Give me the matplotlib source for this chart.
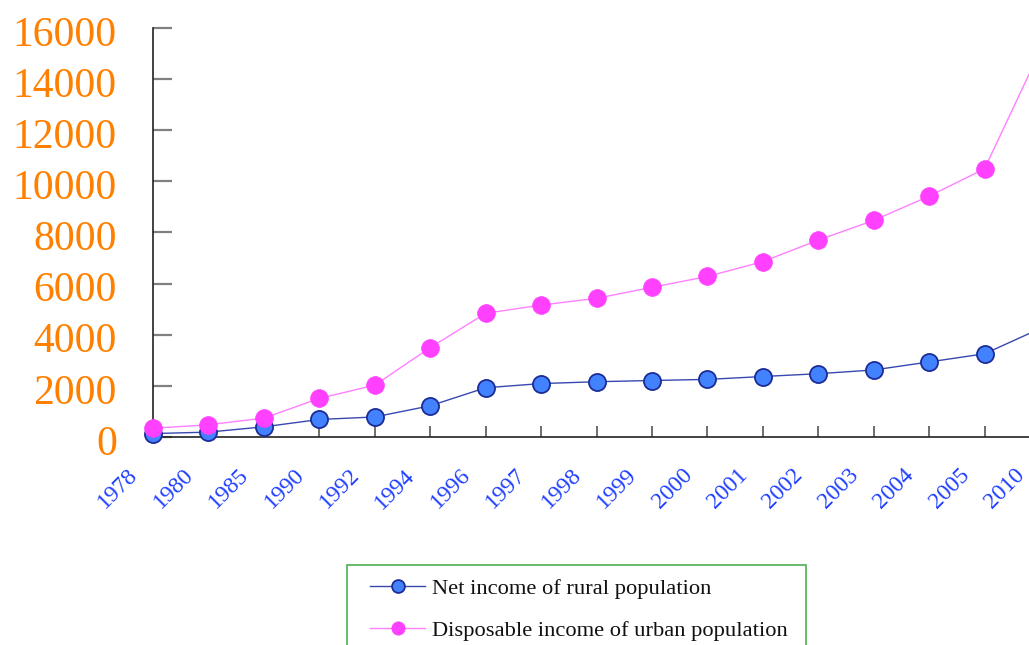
import matplotlib
matplotlib.use("Agg")
import matplotlib.pyplot as plt
from matplotlib.patches import Rectangle
from matplotlib.transforms import ScaledTranslation

# Per-capita income (yuan) by year
years = ["1978", "1980", "1985", "1990", "1992", "1994", "1996", "1997",
         "1998", "1999", "2000", "2001", "2002", "2003", "2004", "2005", "2010"]
rural_income = [134, 191, 398, 686, 784, 1221, 1926, 2090, 2162, 2210,
                2253, 2366, 2476, 2622, 2936, 3255, 4240]
urban_income = [343, 478, 739, 1510, 2027, 3496, 4839, 5160, 5425, 5854,
                6280, 6860, 7703, 8472, 9422, 10493, 15100]
y_ticks = [0, 2000, 4000, 6000, 8000, 10000, 12000, 14000, 16000]

W, H, DPI = 1029, 645, 100
fig = plt.figure(figsize=(W / DPI, H / DPI), dpi=DPI)
fig.patch.set_facecolor("white")

serif = ["Liberation Serif", "DejaVu Serif"]

# Plot area: first category sits on the value axis, last one at the far edge
ax = fig.add_axes([153 / W, 1 - 437 / H, (1040 - 153) / W, (437 - 28) / H])
ax.set_facecolor("none")

x = list(range(len(years)))
ax.plot(x, rural_income, color="#3848B0", linewidth=1.0,
        marker="o", markersize=12.3, markerfacecolor="#4282FF",
        markeredgecolor="#1C2C96", markeredgewidth=1.3,
        label="Net income of rural population", clip_on=False, zorder=3)
ax.plot(x, urban_income, color="#FF80FF", linewidth=1.0,
        marker="o", markersize=12.8, markerfacecolor="#FF40FF",
        markeredgecolor="#FF40FF", markeredgewidth=0.5,
        label="Disposable income of urban population", clip_on=False, zorder=4)

ax.set_xlim(0, len(years) - 1)
ax.set_ylim(0, 16000)

for side in ("top", "right"):
    ax.spines[side].set_visible(False)
for side in ("left", "bottom"):
    ax.spines[side].set_color("#222222")
    ax.spines[side].set_linewidth(1.2)

ax.set_yticks(y_ticks)
ax.set_yticklabels([str(v) for v in y_ticks], fontfamily=serif,
                   fontsize=30, color="#FF8000")
ax.tick_params(axis="y", direction="in", length=14, width=1.6,
               color="#808080", pad=26)
ylab_shift = ScaledTranslation(0, -3 / DPI, fig.dpi_scale_trans)
for lab in ax.get_yticklabels():
    lab.set_transform(lab.get_transform() + ylab_shift)

ax.set_xticks(x)
ax.set_xticklabels(years, fontfamily=serif, fontsize=17, color="#1F3FFF",
                   rotation=45, ha="right", va="top")
ax.tick_params(axis="x", direction="in", length=8, width=1.2,
               color="#555555", pad=20)
xlab_shift = ScaledTranslation(-11 / DPI, 0, fig.dpi_scale_trans)
for lab in ax.get_xticklabels():
    lab.set_transform(lab.get_transform() + xlab_shift)

# Legend box, running off the bottom of the canvas
fig.add_artist(Rectangle((347 / W, -0.05), (806 - 347) / W,
                         1 - 565 / H + 0.05, transform=fig.transFigure,
                         facecolor="white", edgecolor="#4CAF50",
                         linewidth=1.2, zorder=1))
leg = fig.legend(loc="upper left",
                 bbox_to_anchor=(370 / W, 1 - 578 / H),
                 frameon=False, borderpad=0, borderaxespad=0,
                 prop={"family": serif, "size": 16.2},
                 handlelength=2.45, handletextpad=0.3,
                 labelspacing=0.95, markerscale=0.75)
leg.set_zorder(2)
for t in leg.get_texts():
    t.set_color("#111111")

fig.savefig("out.png", dpi=DPI)
